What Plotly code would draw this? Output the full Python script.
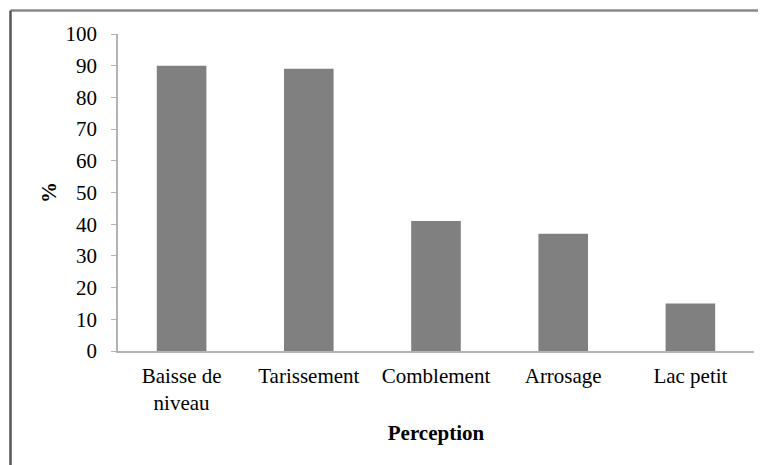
import plotly.graph_objects as go

categories = ["Baisse de<br>niveau", "Tarissement", "Comblement", "Arrosage", "Lac petit"]
values = [90, 89, 41, 37, 15]
y_ticks = [0, 10, 20, 30, 40, 50, 60, 70, 80, 90, 100]

OFF = 8  # default page body margin
W, H = 766 - OFF, 465 - OFF
L, R, T, B = 118 - OFF, 12, 34 - OFF, 114
pw, ph = W - L - R, H - T - B

def px_x(x):
    return (x - OFF - L) / pw

def px_y(y):
    return (H - B - (y - OFF)) / ph

fig = go.Figure(go.Bar(x=categories, y=values, marker=dict(color="#808080", line=dict(width=0)), width=0.39))

font = dict(family="Liberation Serif, Times New Roman, serif", color="black")

fig.update_layout(
    width=W, height=H,
    margin=dict(l=L, r=R, t=T, b=B),
    paper_bgcolor="white", plot_bgcolor="white",
    showlegend=False,
    font=dict(**font, size=21),
    xaxis=dict(
        showline=True, linecolor="#b3b3b3", linewidth=1.5,
        ticks="", showgrid=False,
        tickfont=dict(**font, size=21),
        ticklabelstandoff=5,
        title=dict(text="<b>Perception</b>", font=dict(**font, size=21), standoff=11),
    ),
    yaxis=dict(
        range=[0, 100], tickvals=y_ticks,
        showline=True, linecolor="#b3b3b3", linewidth=1.5,
        ticks="outside", ticklen=5, tickcolor="#b3b3b3",
        showgrid=False, zeroline=False,
        tickfont=dict(**font, size=21),
        ticklabelstandoff=10,
        title=dict(text="<b>%</b>", font=dict(**font, size=21), standoff=3),
    ),
    shapes=[
        dict(type="line", xref="paper", yref="paper", x0=px_x(10.5), x1=px_x(766), y0=px_y(10.5), y1=px_y(10.5),
             line=dict(color="#888888", width=2.5)),
        dict(type="line", xref="paper", yref="paper", x0=px_x(10.5), x1=px_x(10.5), y0=px_y(10.5), y1=px_y(465),
             line=dict(color="#555555", width=2.5)),
    ],
)

fig.write_html("out.html")
